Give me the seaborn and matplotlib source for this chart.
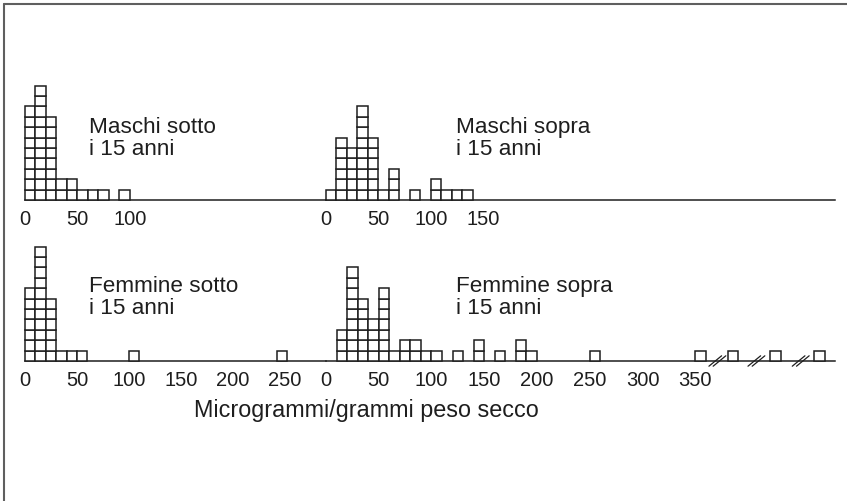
import matplotlib
matplotlib.use("Agg")
import matplotlib.pyplot as plt
from matplotlib.lines import Line2D
import seaborn as sns

# left edge of each 10-unit bin and number of subjects in it
maschi_sotto_bins = [0, 10, 20, 30, 40, 50, 60, 70, 90]
maschi_sotto_counts = [9, 11, 8, 2, 2, 1, 1, 1, 1]

maschi_sopra_bins = [0, 10, 20, 30, 40, 50, 60, 80, 100, 110, 120, 130]
maschi_sopra_counts = [1, 6, 5, 9, 6, 1, 3, 1, 2, 1, 1, 1]

femmine_sotto_bins = [0, 10, 20, 30, 40, 50, 100, 242]
femmine_sotto_counts = [7, 11, 6, 1, 1, 1, 1, 1]

femmine_sopra_bins = [10, 20, 30, 40, 50, 60, 70, 80, 90, 100, 120, 140, 160, 180, 190, 250, 350]
femmine_sopra_counts = [3, 9, 6, 4, 7, 1, 2, 2, 1, 1, 1, 2, 1, 2, 1, 1, 1]
# off-scale values, drawn after the axis breaks
femmine_sopra_extra = [381, 421, 463]
femmine_sopra_breaks = [371, 408, 450]

ticks_maschi_sotto = [0, 50, 100]
ticks_maschi_sopra = [0, 50, 100, 150]
ticks_femmine_sotto = [0, 50, 100, 150, 200, 250]
ticks_femmine_sopra = [0, 50, 100, 150, 200, 250, 300, 350]

W, H = 847, 501
UNIT_H = 10.4   # pixels per stacked square
INK = "#1e1e1e"

sns.set_theme(style="white")
plt.rcParams['font.family'] = ['Liberation Sans', 'DejaVu Sans']

fig = plt.figure(figsize=(W / 100, H / 100), dpi=100)


def make_axes(left, right, base, xmax, ticks):
    nrows = 12
    ax = fig.add_axes([left / W, 1 - base / H, (right - left) / W, nrows * UNIT_H / H])
    ax.patch.set_visible(False)
    ax.set_xlim(0, xmax)
    ax.set_ylim(0, nrows)
    ax.set_yticks([])
    ax.set_xticks(ticks)
    ax.set_xticklabels([str(t) for t in ticks])
    sns.despine(ax=ax, left=True)
    ax.spines['bottom'].set_color(INK)
    ax.spines['bottom'].set_linewidth(1.1)
    ax.tick_params(axis='x', length=0, pad=7, labelsize=14.5, colors=INK)
    return ax


def dot_hist(ax, bins, counts):
    for level in range(max(counts)):
        xs = [b for b, c in zip(bins, counts) if c > level]
        ax.bar(xs, 1, bottom=level, width=10, align='edge', color='white',
               edgecolor=INK, linewidth=1.1, clip_on=False, zorder=3)


ax1 = make_axes(25, 326, 200, 286.7, ticks_maschi_sotto)
dot_hist(ax1, maschi_sotto_bins, maschi_sotto_counts)

ax2 = make_axes(326, 835, 200, 485.7, ticks_maschi_sopra)
dot_hist(ax2, maschi_sopra_bins, maschi_sopra_counts)

ax3 = make_axes(25, 326, 361, 289.4, ticks_femmine_sotto)
dot_hist(ax3, femmine_sotto_bins, femmine_sotto_counts)

ax4 = make_axes(326, 835, 361, 482.5, ticks_femmine_sopra)
dot_hist(ax4, femmine_sopra_bins + femmine_sopra_extra,
         femmine_sopra_counts + [1] * len(femmine_sopra_extra))

# double-slash axis breaks
for xb in femmine_sopra_breaks:
    for off in (-2, 2):
        ax4.plot([xb + off - 6, xb + off + 6], [-0.5, 0.5], color=INK,
                 lw=0.9, clip_on=False, zorder=4)

# panel captions
captions = [
    (89, 133, "Maschi sotto"), (89, 155, "i 15 anni"),
    (456, 133, "Maschi sopra"), (456, 155, "i 15 anni"),
    (89, 292, "Femmine sotto"), (89, 314, "i 15 anni"),
    (456, 292, "Femmine sopra"), (456, 314, "i 15 anni"),
]
for x, y, s in captions:
    fig.text(x / W, 1 - y / H, s, fontsize=16.2, color=INK, ha='left', va='baseline')

fig.text(366 / W, 1 - 410 / H, "Microgrammi/grammi peso secco",
         fontsize=16.8, color=INK, ha='center', va='center')

# frame on left and top edge
fig.add_artist(Line2D([3.5 / W, 3.5 / W], [0, 1 - 4 / H], transform=fig.transFigure,
                      color='#5f5f5f', lw=1.5))
fig.add_artist(Line2D([3.5 / W, 1], [1 - 4 / H, 1 - 4 / H], transform=fig.transFigure,
                      color='#5f5f5f', lw=1.5))

fig.savefig("out.png", dpi=100)
